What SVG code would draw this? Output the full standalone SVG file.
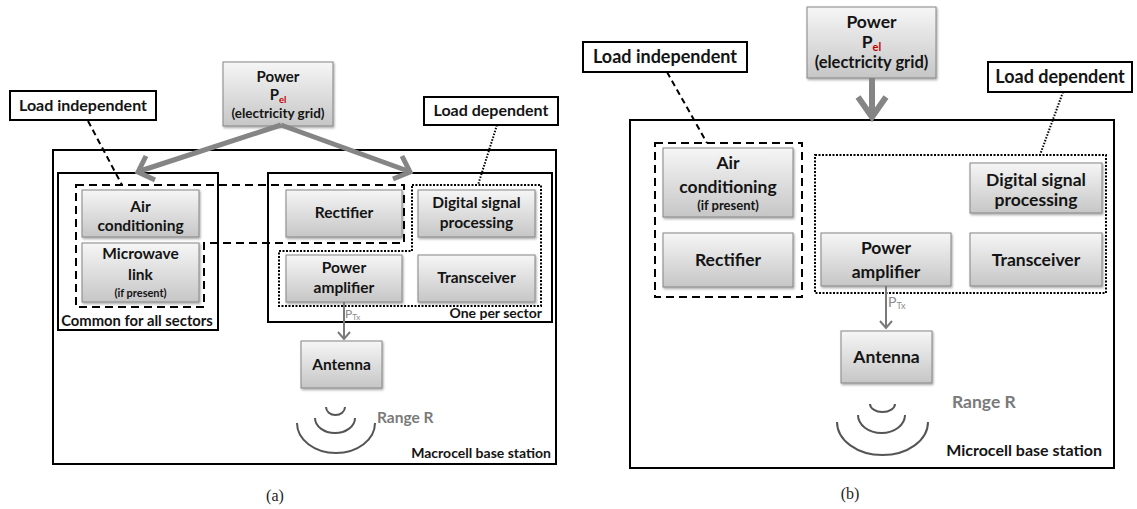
<svg xmlns="http://www.w3.org/2000/svg" width="1137" height="509" viewBox="0 0 1137 509">
<defs>
<linearGradient id="g" x1="0" y1="0" x2="0" y2="1">
<stop offset="0" stop-color="#f6f6f6"/>
<stop offset="1" stop-color="#c6c6c6"/>
</linearGradient>
<filter id="sh" x="-10%" y="-10%" width="130%" height="140%">
<feDropShadow dx="1" dy="1.5" stdDeviation="1" flood-color="#000" flood-opacity="0.35"/>
</filter>
</defs>
<style>
.box{fill:url(#g);stroke:#858585;stroke-width:1;filter:url(#sh)}
.frame{fill:none;stroke:#000;stroke-width:2}
.lbl{fill:#fff;stroke:#000;stroke-width:2}
.dash{fill:none;stroke:#000;stroke-width:2;stroke-dasharray:8 5}
.dot{fill:none;stroke:#000;stroke-width:2;stroke-dasharray:2 1.5}
.lead1{fill:none;stroke:#000;stroke-width:2;stroke-dasharray:6 4}
.lead2{fill:none;stroke:#000;stroke-width:2;stroke-dasharray:1.5 1.5}
.big{fill:none;stroke:#858585;stroke-width:5;stroke-linecap:butt;stroke-linejoin:miter}
.thin{fill:none;stroke:#7a7a7a;stroke-width:2}
.arc{fill:none;stroke:#555;stroke-width:2}
text{font-family:Lato,"Liberation Sans",sans-serif;fill:#141414}
.t{font-weight:bold;text-anchor:middle}
.a{font-size:15.5px}
.b{font-size:17.5px}
.sa{font-size:11px}
.sb{font-size:13px}
.la{font-size:16px;font-weight:bold;text-anchor:middle}
.lb{font-size:18px;font-weight:bold;text-anchor:middle}
.note{font-size:14px;font-weight:bold}
.range{font-weight:bold;fill:#7a7a7a}
.ptx{fill:#8a8a8a}
.cap{font-family:"Liberation Serif",serif;font-size:16px;text-anchor:middle;fill:#222}
</style>

<!-- ===== Panel (a) ===== -->
<g id="a-macro"><rect class="frame" x="53" y="150" width="503" height="314"/>
<text class="note" x="551" y="458" text-anchor="end">Macrocell base station</text></g>
<g id="a-common"><rect class="frame" x="58" y="173" width="160" height="157"/>
<text class="note" x="137" y="326" text-anchor="middle" style="font-size:14.8px">Common for all sectors</text></g>
<g id="a-sector"><rect class="frame" x="268" y="173" width="284" height="149"/>
<text class="note" x="542" y="318" text-anchor="end">One per sector</text></g>

<g id="a-power"><rect class="box" x="223" y="62" width="110" height="64"/>
<text class="t" x="278" y="82" font-size="15">Power</text>
<text class="t" x="278" y="100" font-size="15">P<tspan font-size="9.5" dy="3" fill="#c00000">el</tspan></text>
<text class="t" x="278" y="118" font-size="13.5">(electricity grid)</text></g>

<g id="a-loadind"><rect class="lbl" x="10" y="91" width="146" height="29"/>
<text class="la" x="83" y="111">Load independent</text></g>
<g id="a-loaddep"><rect class="lbl" x="424" y="97" width="134" height="28"/>
<text class="la" x="491" y="116">Load dependent</text></g>

<g id="a-air"><rect class="box" x="82" y="190" width="117" height="47"/>
<text class="t a" x="140.5" y="212">Air</text>
<text class="t a" x="140.5" y="231">conditioning</text></g>
<g id="a-micro"><rect class="box" x="82" y="243" width="117" height="59"/>
<text class="t a" x="140.5" y="259">Microwave</text>
<text class="t a" x="140.5" y="280">link</text>
<text class="t sa" x="140.5" y="297">(if present)</text></g>
<g id="a-rect"><rect class="box" x="286" y="190" width="116" height="47"/>
<text class="t a" x="344" y="218">Rectifier</text></g>
<g id="a-dsp"><rect class="box" x="418" y="190" width="117" height="47"/>
<text class="t a" x="476.5" y="208">Digital signal</text>
<text class="t a" x="476.5" y="228">processing</text></g>
<g id="a-pa"><rect class="box" x="286" y="255" width="116" height="47"/>
<text class="t a" x="344" y="273">Power</text>
<text class="t a" x="344" y="293">amplifier</text></g>
<g id="a-trx"><rect class="box" x="418" y="255" width="117" height="47"/>
<text class="t a" x="476.5" y="283">Transceiver</text></g>
<g id="a-ant"><rect class="box" x="301" y="341" width="81" height="47"/>
<text class="t a" x="341.5" y="370">Antenna</text></g>

<g id="a-regions">
<path class="dash" d="M76 185 H404 V243 H204 V307 H76 Z"/>
<path class="dot" d="M412 185 H541 V306 H279 V251 H412 Z"/>
</g>
<g id="a-range">
<path class="arc" d="M326 407 A9.5 8 0 0 0 345 407"/>
<path class="arc" d="M315 418 A20 15 0 0 0 355 418"/>
<path class="arc" d="M297 423 A39 30 0 0 0 375 423"/>
<text class="range" x="377" y="423" font-size="15.5px">Range R</text>
</g>

<g id="a-connectors">
<line class="lead1" x1="88" y1="121" x2="122" y2="185"/>
<line class="lead2" x1="497" y1="125" x2="478" y2="185"/>
<path class="big" d="M281 125 L140 171"/>
<path class="big" d="M155 180 L138 172 L146 156"/>
<path class="big" d="M281 125 L408 171"/>
<path class="big" d="M402 156 L410 172 L393 179"/>
<line class="thin" x1="344" y1="302" x2="344" y2="339"/>
<path class="thin" d="M338 332 L344 339 L350 332"/>
<text class="ptx" x="345" y="318" font-size="12">P<tspan font-size="8" dy="2">Tx</tspan></text>
</g>
<text class="cap" x="275" y="501">(a)</text>

<!-- ===== Panel (b) ===== -->
<g id="b-micro"><rect class="frame" x="630" y="120" width="484" height="348"/>
<text class="note" x="1102" y="456" text-anchor="end" style="font-size:16px">Microcell base station</text></g>

<g id="b-power"><rect class="box" x="807" y="7" width="129" height="71"/>
<text class="t" x="871.5" y="28" font-size="17.5">Power</text>
<text class="t" x="871.5" y="48" font-size="17.5">P<tspan font-size="11" dy="3" fill="#c00000">el</tspan></text>
<text class="t" x="871.5" y="68" font-size="16.5">(electricity grid)</text></g>

<g id="b-loadind"><rect class="lbl" x="583" y="42" width="164" height="30"/>
<text class="lb" x="665" y="63">Load independent</text></g>
<g id="b-loaddep"><rect class="lbl" x="988" y="62" width="144" height="30"/>
<text class="lb" x="1060" y="83">Load dependent</text></g>

<g id="b-air"><rect class="box" x="663" y="148" width="130" height="69"/>
<text class="t b" x="728" y="169">Air</text>
<text class="t b" x="728" y="193">conditioning</text>
<text class="t sb" x="728" y="210">(if present)</text></g>
<g id="b-rect"><rect class="box" x="663" y="233" width="130" height="54"/>
<text class="t b" x="728" y="266">Rectifier</text></g>
<g id="b-dsp"><rect class="box" x="970" y="163" width="132" height="50"/>
<text class="t b" x="1036" y="186">Digital signal</text>
<text class="t b" x="1036" y="206">processing</text></g>
<g id="b-pa"><rect class="box" x="821" y="233" width="130" height="53"/>
<text class="t b" x="886" y="254">Power</text>
<text class="t b" x="886" y="278">amplifier</text></g>
<g id="b-trx"><rect class="box" x="970" y="233" width="132" height="53"/>
<text class="t b" x="1036" y="266">Transceiver</text></g>
<g id="b-ant"><rect class="box" x="841" y="331" width="91" height="52"/>
<text class="t b" x="886.5" y="363">Antenna</text></g>

<g id="b-regions">
<rect class="dash" x="655" y="143" width="147" height="154"/>
<rect class="dot" x="815" y="155" width="291" height="138"/>
</g>
<g id="b-range">
<path class="arc" d="M870 404 A12.5 8 0 0 0 895 404"/>
<path class="arc" d="M858 415 A23.5 18 0 0 0 905 415"/>
<path class="arc" d="M837 422 A45.5 33 0 0 0 928 422"/>
<text class="range" x="952" y="408" font-size="17.5px">Range R</text>
</g>

<g id="b-connectors">
<line class="lead1" x1="667" y1="72" x2="707" y2="143"/>
<line class="lead2" x1="1063" y1="92" x2="1040" y2="155"/>
<path class="big" d="M872 78 V115" style="stroke-width:6"/>
<path class="big" d="M858 97 L872 117 L886 97" style="stroke-width:6"/>
<line class="thin" x1="886" y1="286" x2="886" y2="328"/>
<path class="thin" d="M880 321 L886 328 L892 321"/>
<text class="ptx" x="888" y="307" font-size="14">P<tspan font-size="9" dy="2">Tx</tspan></text>
</g>
<text class="cap" x="850" y="499">(b)</text>
</svg>
